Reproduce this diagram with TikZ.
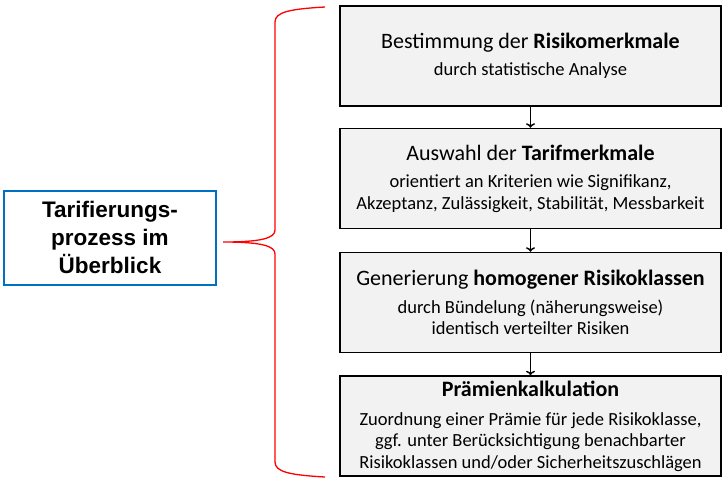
\documentclass[tikz,border=0pt]{standalone}
\usepackage{fontspec}
\setmainfont{Carlito}
\newfontfamily\overviewfont{Liberation Sans}
\usepackage{tikz}
\usetikzlibrary{shapes,arrows,arrows.meta,positioning}
\usepackage{xcolor}
\definecolor{stagecolor}{RGB}{242, 242, 242}
\definecolor{framecolor}{RGB}{0, 112, 192}
\definecolor{bracecolor}{RGB}{255, 0, 0}
\newcommand{\detail}{\fontsize{18.5}{21}\selectfont}

\begin{document}
\begin{tikzpicture}[
    x=1pt, y=-1pt,
    stage/.style={rectangle, draw, line width=1.5pt, fill=stagecolor, minimum width=381pt, minimum height=100pt, inner sep=2pt, align=center, font=\fontsize{22}{21.5}\selectfont},
    overview/.style={rectangle, draw=framecolor, line width=2pt, fill=white, minimum width=212pt, minimum height=94pt, align=center, font=\overviewfont\bfseries\fontsize{22.5}{28}\selectfont},
    flow/.style={-{To[length=4.5pt, width=9pt]}, line width=1.4pt},
    brace/.style={bracecolor, line width=1.3pt},
]
    \useasboundingbox (0,0) rectangle (726,480);

    % Overview on the left
    \node[overview] (overview) at (110, 237.5) {Tarifierungs-\\prozess im\\Überblick};

    % Process stages
    \node[stage] (merkmale) at (530.5, 56) {Bestimmung der \textbf{Risikomerkmale}\\[6pt]\detail durch statistische Analyse};
    \node[stage] (tarif) at (530.5, 178.5) {Auswahl der \textbf{Tarifmerkmale}\\[6pt]\detail orientiert an Kriterien wie Signifikanz,\\\detail Akzeptanz, Zulässigkeit, Stabilität, Messbarkeit};
    \node[stage] (klassen) at (530.5, 302.5) {Generierung \textbf{homogener Risikoklassen}\\[6pt]\detail durch Bündelung (näherungsweise)\\\detail identisch verteilter Risiken};
    \node[stage] (praemie) at (530.5, 426) {\textbf{Prämienkalkulation}\\[7.5pt]\detail Zuordnung einer Prämie für jede Risikoklasse,\\\detail ggf. unter Berücksichtigung benachbarter\\\detail Risikoklassen und/oder Sicherheitszuschlägen};

    % Flow between stages
    \draw[flow] (merkmale) -- (tarif);
    \draw[flow] (tarif) -- (klassen);
    \draw[flow] (klassen) -- (praemie);

    % Brace
    \coordinate (brace_top) at (325, 7);
    \coordinate (brace_tip) at (223, 242);
    \coordinate (brace_bottom) at (325, 477);
    \draw[brace] (brace_top) .. controls (290, 9) and (275, 12) .. (275, 22)
        -- (275, 230) .. controls (275, 238) and (262, 242) .. (brace_tip)
        .. controls (262, 242) and (275, 246) .. (275, 254)
        -- (275, 462) .. controls (275, 472) and (290, 475) .. (brace_bottom);
\end{tikzpicture}
\end{document}
